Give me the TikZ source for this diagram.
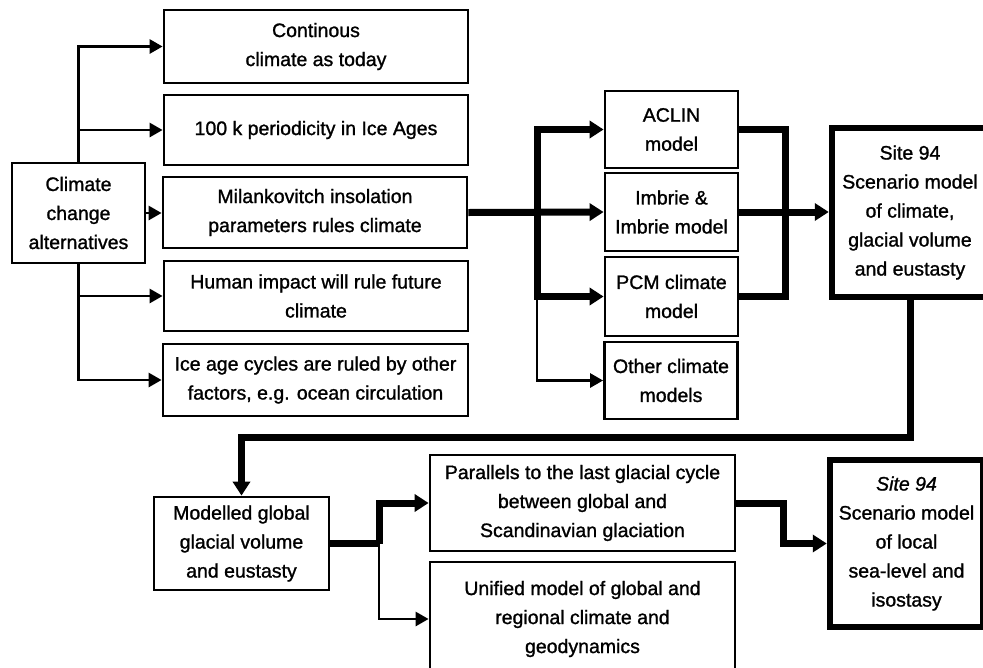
\documentclass[tikz,border=0pt]{standalone}
\usepackage{fontspec}
\setmainfont{Liberation Sans}[FakeBold=1.2]
\usetikzlibrary{arrows.meta,calc}
\begin{document}
\begin{tikzpicture}[x=1pt,y=-1pt,
  box/.style={draw, line width=2.8pt, inner sep=0pt, align=center,
    font=\fontsize{19.5}{29}\selectfont},
  sitebox/.style={box, line width=6.5pt},
  thinline/.style={line width=2.8pt},
  thickline/.style={line width=7pt},
  tip/.style={-{Triangle[length=13pt,width=14pt]}},
  bigtip/.style={-{Triangle[length=14pt,width=17pt]}}
]
\useasboundingbox (0,0) rectangle (983,667);
\clip (0,0) rectangle (983,667);
\fill[white] (0,0) rectangle (983,667);

% left column
\node[box, minimum width=133pt, minimum height=100pt] (alt) at (78.5,213) {Climate\\change\\alternatives};
\node[box, minimum width=304pt, minimum height=73pt] (cont) at (316,46.5) {Continous\\climate as today};
\node[box, minimum width=304pt, minimum height=70pt] (per) at (316,130) {100 k periodicity in Ice Ages};
\node[box, minimum width=304pt, minimum height=71pt] (mil) at (315,212.5) {Milankovitch insolation\\parameters rules climate};
\node[box, minimum width=304pt, minimum height=70pt] (hum) at (316,296) {Human impact will rule future\\climate};
\node[box, minimum width=305pt, minimum height=72pt] (ice) at (315.5,380) {Ice age cycles are ruled by other\\factors, e.g. ocean circulation};

% model column
\node[box, minimum width=133pt, minimum height=77pt] (aclin) at (671.5,129.5) {ACLIN\\model};
\node[box, minimum width=133pt, minimum height=78pt] (imb) at (671.5,212) {Imbrie \&\\Imbrie model};
\node[box, minimum width=133pt, minimum height=79pt] (pcm) at (671.5,296.5) {PCM climate\\model};
\node[box, minimum width=133pt, minimum height=77pt] (oth) at (671,380.5) {Other climate\\models};

\node[sitebox, minimum width=156pt, minimum height=169pt] (site1) at (910,212.5) {Site 94\\Scenario model\\of climate,\\glacial volume\\and eustasty};

% bottom row
\node[box, minimum width=175pt, minimum height=93pt] (mod) at (241.5,543.5) {Modelled global\\glacial volume\\and eustasty};
\node[box, minimum width=305pt, minimum height=96pt] (par) at (582.5,503) {Parallels to the last glacial cycle\\between global and\\Scandinavian glaciation};
\node[box, minimum width=305pt, minimum height=114pt] (uni) at (582.5,619) {Unified model of global and\\regional climate and\\geodynamics};
\node[sitebox, minimum width=153pt, minimum height=167pt] (site2) at (906.5,543.5) {{\itshape Site 94}\\Scenario model\\of local\\sea-level and\\isostasy};

% coordinates for junctions
\coordinate (t1) at (537,212.5);
\coordinate (t2) at (785,212);
\coordinate (bend) at (0,437);
\coordinate (t3) at (379,543.5);
\coordinate (t4) at (783,543.5);

% left connectors
\draw[thinline, tip] (alt.north) |- (cont.west);
\draw[thinline, tip] (alt.north) |- (per.west);
\draw[thinline, tip] (alt.east) -- (alt.east -| mil.west);
\draw[thinline, tip] (alt.south) |- (hum.west);
\draw[thinline, tip] (alt.south) |- (ice.west);

% to models
\draw[thinline, tip] (pcm.west -| t1) |- (oth.west);
\draw[thickline, bigtip] (mil.east) -- (imb.west);
\draw[thickline, bigtip] (t1) |- (aclin.west);
\draw[thickline, bigtip] (t1) |- (pcm.west);

% models to site 94
\draw[thickline] (aclin.east) -| (t2);
\draw[thickline] (pcm.east) -| (t2);
\draw[thickline, bigtip] (imb.east) -- (imb.east -| site1.west);

% site 94 down to modelled
\draw[thickline, bigtip] (site1.south) -- (site1.south |- bend) -| (mod.north);

% modelled to parallels / unified
\draw[thinline, tip] (t3) |- (uni.west);
\draw[thickline] (mod.east) -- (t3);
\draw[thickline, bigtip] (t3) |- (par.west);

% parallels to site 94 (2)
\draw[thickline, bigtip] (par.east) -| (t4) -- (site2.west);
\end{tikzpicture}
\end{document}
